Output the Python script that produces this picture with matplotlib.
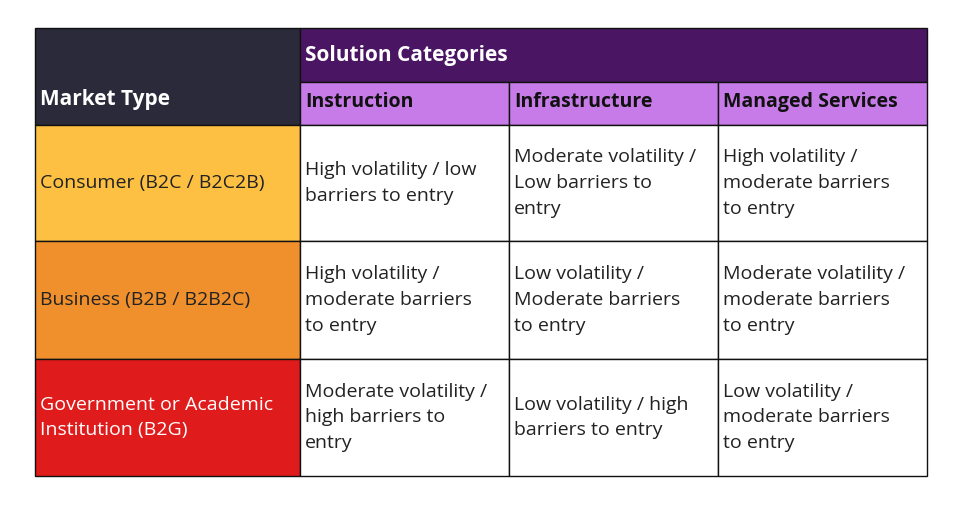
import matplotlib.pyplot as plt
from matplotlib.patches import Rectangle

plt.rcParams['font.family'] = ['Open Sans', 'DejaVu Sans']

corner_label = "Market Type"
group_label = "Solution Categories"
columns = ["Instruction", "Infrastructure", "Managed Services"]
rows = ["Consumer (B2C / B2C2B)", "Business (B2B / B2B2C)",
        "Government or Academic\nInstitution (B2G)"]
row_colors = ["#fdc043", "#f0902c", "#e01b1b"]
row_text_colors = ["#222222", "#222222", "white"]
cells = [
    ["High volatility / low\nbarriers to entry",
     "Moderate volatility /\nLow barriers to\nentry",
     "High volatility /\nmoderate barriers\nto entry"],
    ["High volatility /\nmoderate barriers\nto entry",
     "Low volatility /\nModerate barriers\nto entry",
     "Moderate volatility /\nmoderate barriers\nto entry"],
    ["Moderate volatility /\nhigh barriers to\nentry",
     "Low volatility / high\nbarriers to entry",
     "Low volatility /\nmoderate barriers\nto entry"],
]

xs = [35, 300, 509, 718, 927]
ys_head = [28, 82, 125]
ys_rows = [125, 241, 359, 476]

fig = plt.figure(figsize=(9.67, 5.07), dpi=100)
ax = fig.add_axes([0, 0, 1, 1])
ax.set_xlim(0, 967)
ax.set_ylim(507, 0)
ax.axis('off')

def box(x0, y0, x1, y1, fc):
    ax.add_patch(Rectangle((x0, y0), x1 - x0, y1 - y0, facecolor=fc,
                           edgecolor='#111111', linewidth=1))

fs = 14
box(xs[0], ys_head[0], xs[1], ys_head[2], "#2b2a3b")
ax.text(xs[0] + 5, 100, corner_label, color='white', fontsize=15,
        fontweight='bold', va='center')
box(xs[1], ys_head[0], xs[4], ys_head[1], "#4a1663")
ax.text(xs[1] + 5, 55, group_label, color='white', fontsize=15,
        fontweight='bold', va='center')
for j, c in enumerate(columns):
    box(xs[j + 1], ys_head[1], xs[j + 2], ys_head[2], "#c77be8")
    ax.text(xs[j + 1] + 5, 102, c, color='#111111', fontsize=14,
            fontweight='bold', va='center')

for i, r in enumerate(rows):
    y0, y1 = ys_rows[i], ys_rows[i + 1]
    ym = (y0 + y1) / 2
    box(xs[0], y0, xs[1], y1, row_colors[i])
    ax.text(xs[0] + 5, ym, r, color=row_text_colors[i], fontsize=fs,
            va='center', linespacing=1.55)
    for j in range(3):
        box(xs[j + 1], y0, xs[j + 2], y1, 'white')
        ax.text(xs[j + 1] + 5, ym, cells[i][j], color='#222222',
                fontsize=fs, va='center', linespacing=1.55)

fig.savefig("out.png", dpi=100, facecolor='white')
